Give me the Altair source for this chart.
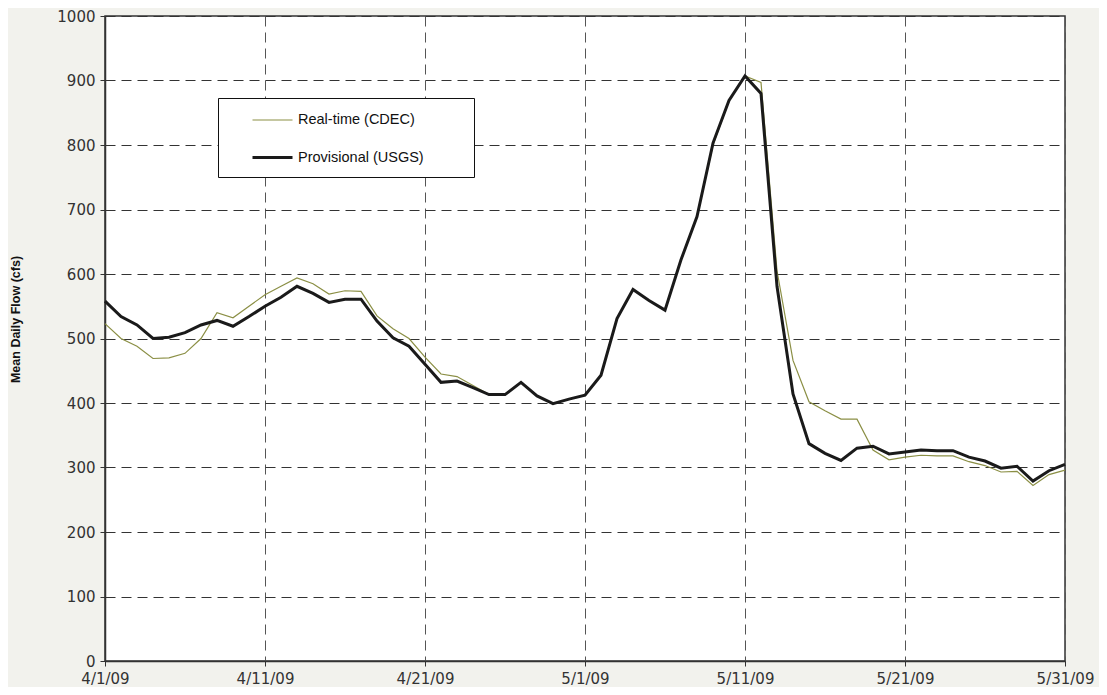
import altair as alt
import pandas as pd

start_date = "2009-04-01"
n_days = 61

realtime_cdec = [523, 500, 488, 469, 470, 477, 500, 540, 532, 550,
                 568, 581, 594, 585, 569, 574, 573, 535, 515, 500,
                 471, 445, 441, 427, 413, 413, 432, 411, 399, 406,
                 412, 443, 531, 576, 559, 544, 622, 689, 800, 869,
                 907, 897, 605, 466, 402, 388, 375, 375, 327, 312,
                 316, 319, 318, 318, 309, 303, 293, 294, 272, 289,
                 296]

provisional_usgs = [558, 534, 521, 500, 502, 509, 521, 528, 519, 534,
                    550, 564, 581, 570, 556, 561, 561, 527, 501, 488,
                    460, 432, 434, 424, 413, 413, 432, 411, 399, 406,
                    412, 443, 531, 576, 559, 544, 622, 689, 803, 869,
                    907, 880, 581, 414, 337, 322, 311, 330, 333, 321,
                    324, 327, 326, 326, 316, 310, 299, 302, 279, 295,
                    305]

series_names = ["Real-time (CDEC)", "Provisional (USGS)"]
series_colors = ["#8b8f45", "#1a1a1a"]
series_widths = [1.2, 3.0]

tick_dates = ["2009-04-01", "2009-04-11", "2009-04-21", "2009-05-01",
              "2009-05-11", "2009-05-21", "2009-05-31"]
y_ticks = list(range(0, 1001, 100))

dates = pd.date_range(start_date, periods=n_days, freq="D").strftime("%Y-%m-%d")
rows = []
for name, vals in zip(series_names, [realtime_cdec, provisional_usgs]):
    for d, v in zip(dates, vals):
        rows.append({"date": d, "flow": v, "series": name})
df = pd.DataFrame(rows)

tick_vals = [alt.DateTime(year=int(t[:4]), month=int(t[5:7]), date=int(t[8:]), utc=True)
             for t in tick_dates]

tick_font = "DejaVu Sans"
legend_spacer = "\u2800" * 54

chart = alt.Chart(df).mark_line().encode(
    x=alt.X("date:T",
            scale=alt.Scale(type="utc", domain=[tick_vals[0], tick_vals[-1]], nice=False),
            axis=alt.Axis(values=tick_vals, format="%-m/%-d/%y", title=None,
                          labelPadding=5, labelFlush=False, gridColor="#555")),
    y=alt.Y("flow:Q",
            scale=alt.Scale(domain=[0, 1000], nice=False),
            axis=alt.Axis(values=y_ticks, format="d", title="Mean Daily Flow (cfs)",
                          titleFont="Liberation Sans", titleFontSize=12.5,
                          titleFontWeight="bold", titleColor="#111",
                          titleAngle=270, titleX=-90, titleY=303,
                          titleAlign="center", titleBaseline="middle",
                          labelPadding=5, gridColor="#333")),
    color=alt.Color("series:N",
                    scale=alt.Scale(domain=series_names, range=series_colors),
                    legend=alt.Legend(title=legend_spacer)),
    strokeWidth=alt.StrokeWidth("series:N",
                                scale=alt.Scale(domain=series_names, range=series_widths),
                                legend=alt.Legend(title=legend_spacer)),
    order=alt.Order("series:N", sort="descending"),
).properties(
    width=960,
    height=645,
    autosize=alt.AutoSizeParams(type="none"),
    padding={"left": 97, "top": 8, "right": 34, "bottom": 26},
    background="#f2f2ed",
).configure_view(
    fill="white",
    stroke="#333333",
    strokeWidth=1.5,
).configure_axis(
    labelFont=tick_font,
    labelFontSize=15,
    labelColor="#333333",
    tickSize=5,
    tickColor="#333333",
    domainColor="#333333",
    domainWidth=1.5,
    grid=True,
    gridDash=[10, 6],
    gridWidth=1,
    gridOpacity=1,
).configure_legend(
    orient="none",
    legendX=113,
    legendY=82,
    direction="vertical",
    symbolType="stroke",
    symbolSize=1600,
    symbolOffset=32,
    labelFont="Liberation Sans",
    labelFontSize=14.5,
    labelColor="#111",
    labelOffset=4,
    labelLimit=400,
    rowPadding=9,
    padding=1,
    titleOrient="bottom",
    titleFontSize=6,
    titlePadding=6,
    titleLimit=600,
    titleFont="DejaVu Sans",
    strokeColor="#111",
    fillColor="white",
    cornerRadius=0,
)

chart.save("out.html", embed_options={"renderer": "svg", "actions": False})
